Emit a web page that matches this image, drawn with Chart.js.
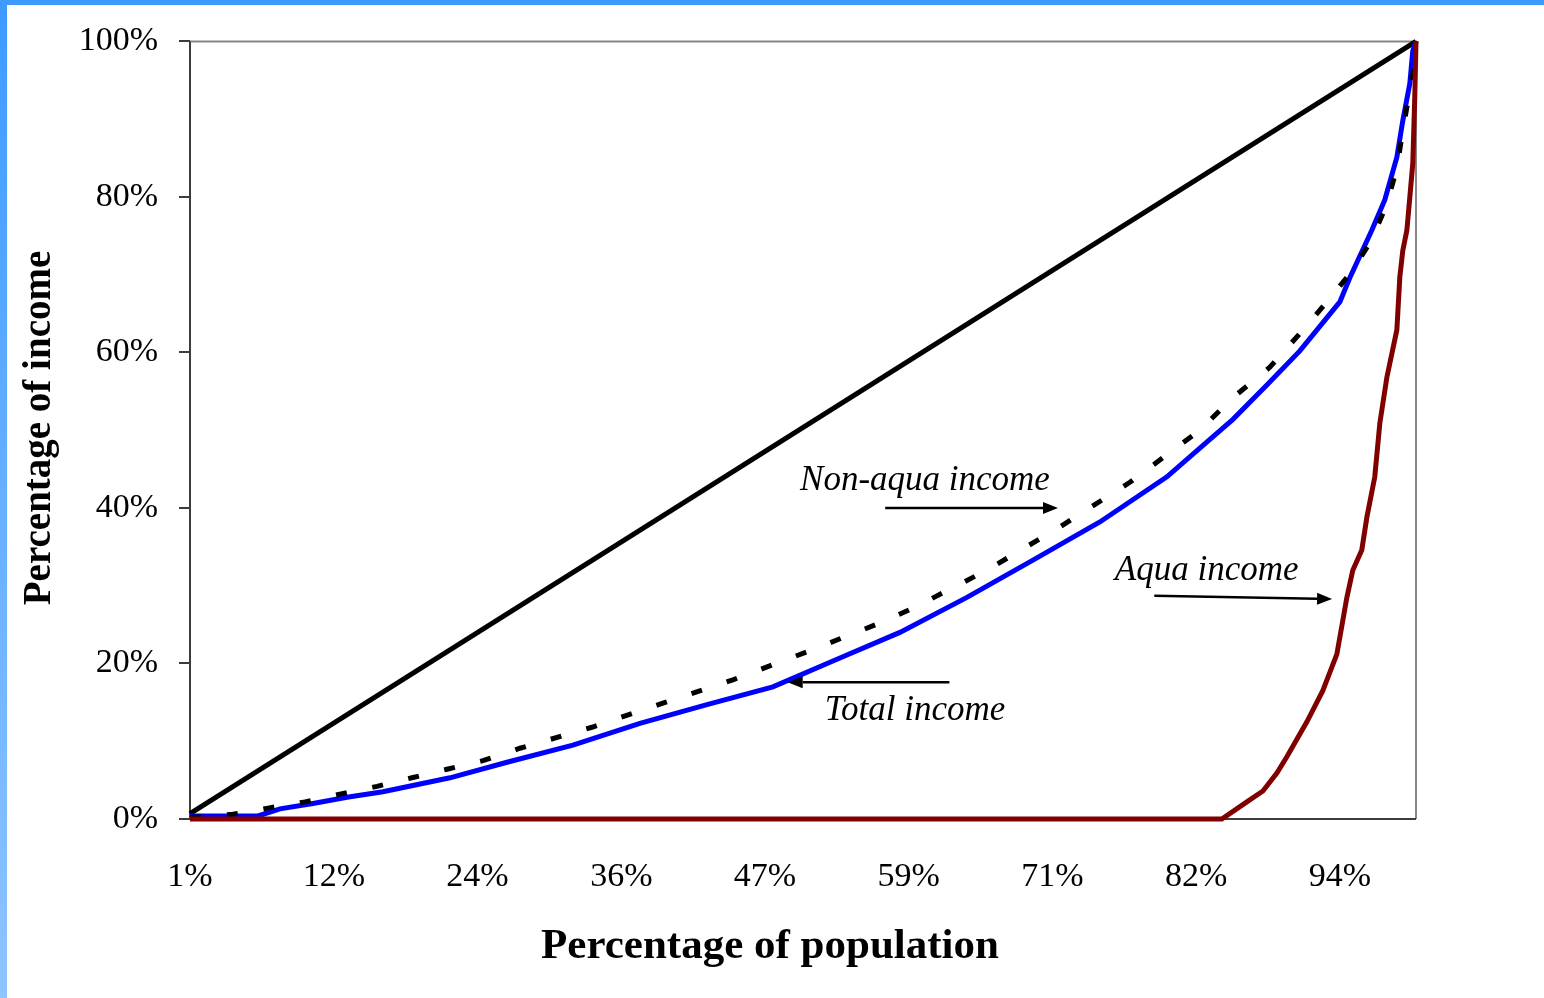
<!DOCTYPE html>
<html>
<head>
<meta charset="utf-8">
<title>Lorenz curves</title>
<script src="https://cdn.jsdelivr.net/npm/chart.js@4.4.1/dist/chart.umd.min.js"></script>
<style>
	html, body { margin: 0; padding: 0; background: #fff; overflow: hidden; }
	#wrap { position: relative; width: 1544px; height: 998px; }
	#topBar { position: absolute; left: 0; top: 0; width: 1544px; height: 5px; background: #3d9bff; }
	#leftBar { position: absolute; left: 0; top: 0; width: 7px; height: 998px; background: linear-gradient( #3d9bff, #8ec4ff ); }
</style>
</head>
<body>
<div id="wrap">
	<canvas id="lorenz" width="1544" height="998"></canvas>
	<div id="topBar"></div>
	<div id="leftBar"></div>
</div>
<script>
( function () {
	'use strict';

	var SERIF = '"Liberation Serif", "Times New Roman", serif';

	// x axis: cumulative share of population (%), tick labels as printed
	var xTickPos    = [ 0.68, 12.33, 23.97, 35.62, 47.26, 58.9, 70.55, 82.19, 93.84 ];
	var xTickLabels = [ '1%', '12%', '24%', '36%', '47%', '59%', '71%', '82%', '94%' ];

	// line of equality
	var equalPop   = [ 0.68, 100 ];
	var equalShare = [ 0.7, 100 ];

	// total income
	var totalPop   = [ 0.68, 6.19, 7.97, 10.64, 13.4, 16.31, 21.74, 26.36, 31.7, 37.13, 42.56, 47.9, 53.33, 58.19, 63.62, 68.97, 74.39, 79.82, 82.49, 85.17, 87.92, 90.59, 93.83, 94.64, 96.42, 97.47, 98.45, 98.93, 99.5, 99.74, 100 ];
	var totalShare = [ 0.4, 0.4, 1.3, 2.0, 2.8, 3.5, 5.3, 7.3, 9.5, 12.3, 14.7, 17.0, 20.7, 24.0, 28.5, 33.3, 38.2, 44.0, 47.7, 51.4, 55.8, 60.2, 66.5, 69.6, 75.7, 79.6, 85.1, 89.8, 94.6, 98.8, 100 ];

	// non-aqua income
	var nonAquaPop   = [ 0.68, 4.16, 7.0, 10.0, 12.83, 15.83, 18.66, 21.5, 24.41, 27.41, 33.24, 38.99, 44.66, 50.66, 56.57, 59.24, 65.24, 70.99, 76.82, 82.49, 85.17, 88.16, 90.35, 92.62, 94.8, 96.42, 97.64, 98.45, 98.93, 99.42, 99.9, 100 ];
	var nonAquaShare = [ 0.2, 0.6, 1.4, 2.2, 3.2, 4.2, 5.3, 6.4, 7.5, 9.1, 11.8, 14.9, 17.9, 21.5, 25.2, 27.1, 32.0, 37.4, 43.3, 50.0, 54.2, 58.1, 62.0, 66.2, 70.4, 74.5, 79.1, 83.7, 88.5, 93.0, 97.2, 100 ];

	// aqua income
	var aquaPop   = [ 0.68, 84.27, 86.3, 87.6, 88.73, 89.54, 91.16, 92.45, 93.59, 94.4, 94.88, 95.61, 96.02, 96.66, 97.07, 97.64, 98.45, 98.69, 98.93, 99.26, 99.5, 99.74, 99.9, 100 ];
	var aquaShare = [ 0, 0, 2.2, 3.6, 5.9, 8.0, 12.5, 16.5, 21.2, 28.5, 32.0, 34.6, 38.8, 44.0, 50.9, 56.8, 62.9, 69.7, 73.1, 75.7, 80.0, 84.3, 92.8, 100 ];

	// in-plot labels with arrows (data units)
	var notes = [
		{ text : 'Non-aqua income', at : [ 50.1, 42.3 ], from : [ 57.0, 40.0 ], to : [ 71.0, 40.0 ] },
		{ text : 'Total income',    at : [ 52.1, 12.7 ], from : [ 62.2, 17.6 ], to : [ 49.1, 17.6 ] },
		{ text : 'Aqua income',     at : [ 75.6, 30.7 ], from : [ 78.8, 28.7 ], to : [ 93.2, 28.3 ] }
	];

	function pairs( xs, ys ) {
		return xs.map( function ( x, i ) { return { x : x, y : ys[ i ] }; } );
	}

	function line( label, xs, ys, color, dash ) {
		return {
			label       : label,
			data        : pairs( xs, ys ),
			borderColor : color,
			borderWidth : 5,
			borderDash  : dash || [],
			pointRadius : 0,
			tension     : 0,
			fill        : false,
			clip        : false
		};
	}

	// ── frame: gray box, darker left and bottom axis lines ──
	var framePlugin = {
		id : 'frame',
		beforeDatasetsDraw : function ( chart ) {
			var a = chart.chartArea, ctx = chart.ctx;
			ctx.save();
			ctx.lineWidth = 2;
			ctx.strokeStyle = '#868686';
			ctx.beginPath();
			ctx.moveTo( a.left, a.top ); ctx.lineTo( a.right, a.top ); ctx.lineTo( a.right, a.bottom );
			ctx.stroke();
			ctx.strokeStyle = '#3c3c3c';
			ctx.beginPath();
			ctx.moveTo( a.left, a.top ); ctx.lineTo( a.left, a.bottom ); ctx.lineTo( a.right, a.bottom );
			ctx.stroke();
			ctx.restore();
		}
	};

	// ── labels, arrows and axis titles ──
	var notesPlugin = {
		id : 'notes',
		afterDraw : function ( chart ) {
			var ctx = chart.ctx, sx = chart.scales.x, sy = chart.scales.y;
			ctx.save();
			ctx.fillStyle = '#000';
			ctx.strokeStyle = '#000';
			ctx.font = 'italic 35px ' + SERIF;
			ctx.textBaseline = 'alphabetic';
			notes.forEach( function ( n ) {
				ctx.fillText( n.text, sx.getPixelForValue( n.at[ 0 ] ), sy.getPixelForValue( n.at[ 1 ] ) );
				var x1 = sx.getPixelForValue( n.from[ 0 ] ), y1 = sy.getPixelForValue( n.from[ 1 ] );
				var x2 = sx.getPixelForValue( n.to[ 0 ] ),   y2 = sy.getPixelForValue( n.to[ 1 ] );
				var ang = Math.atan2( y2 - y1, x2 - x1 ), len = 15, half = 6;
				ctx.lineWidth = 2.5;
				ctx.beginPath();
				ctx.moveTo( x1, y1 );
				ctx.lineTo( x2 - len * Math.cos( ang ), y2 - len * Math.sin( ang ) );
				ctx.stroke();
				ctx.beginPath();
				ctx.moveTo( x2, y2 );
				ctx.lineTo( x2 - len * Math.cos( ang ) - half * Math.sin( ang ), y2 - len * Math.sin( ang ) + half * Math.cos( ang ) );
				ctx.lineTo( x2 - len * Math.cos( ang ) + half * Math.sin( ang ), y2 - len * Math.sin( ang ) - half * Math.cos( ang ) );
				ctx.closePath();
				ctx.fill();
			} );

			ctx.font = 'bold 43px ' + SERIF;
			ctx.textAlign = 'center';
			ctx.fillText( 'Percentage of population', 770, 958 );

			ctx.translate( 40, 428 );
			ctx.rotate( -Math.PI / 2 );
			ctx.font = 'bold 39px ' + SERIF;
			ctx.textBaseline = 'middle';
			ctx.fillText( 'Percentage of income', 0, 0 );
			ctx.restore();
		}
	};

	new Chart( document.getElementById( 'lorenz' ), {
		type : 'line',
		data : {
			datasets : [
				line( 'Aqua income', aquaPop, aquaShare, '#800000' ),
				line( 'Non-aqua income', nonAquaPop, nonAquaShare, '#000000', [ 11, 26 ] ),
				line( 'Total income', totalPop, totalShare, '#0000ff' ),
				line( 'Equality', equalPop, equalShare, '#000000' )
			]
		},
		options : {
			responsive       : false,
			animation        : false,
			devicePixelRatio : 1,
			layout  : { padding : { top : 41, right : 128, left : 0, bottom : 0 } },
			plugins : { legend : { display : false }, tooltip : { enabled : false } },
			scales  : {
				x : {
					type : 'linear',
					min  : 0.68,
					max  : 100,
					afterBuildTicks : function ( s ) {
						s.ticks = xTickPos.map( function ( v ) { return { value : v }; } );
					},
					afterFit : function ( s ) { s.height = 179; },
					grid   : { display : false, drawTicks : false },
					border : { display : false },
					ticks  : {
						autoSkip    : false,
						maxRotation : 0,
						padding     : 38,
						color       : '#000',
						font        : { family : SERIF, size : 34 },
						callback    : function ( v, i ) { return xTickLabels[ i ]; }
					}
				},
				y : {
					min : 0,
					max : 100,
					afterFit : function ( s ) { s.width = 190; },
					grid   : { drawOnChartArea : false, tickLength : 11, color : '#3c3c3c', lineWidth : 2 },
					border : { display : false },
					ticks  : {
						stepSize : 20,
						padding  : 21,
						color    : '#000',
						font     : { family : SERIF, size : 34 },
						callback : function ( v ) { return v + '%'; }
					}
				}
			}
		},
		plugins : [ framePlugin, notesPlugin ]
	} );
} )();
</script>
</body>
</html>
